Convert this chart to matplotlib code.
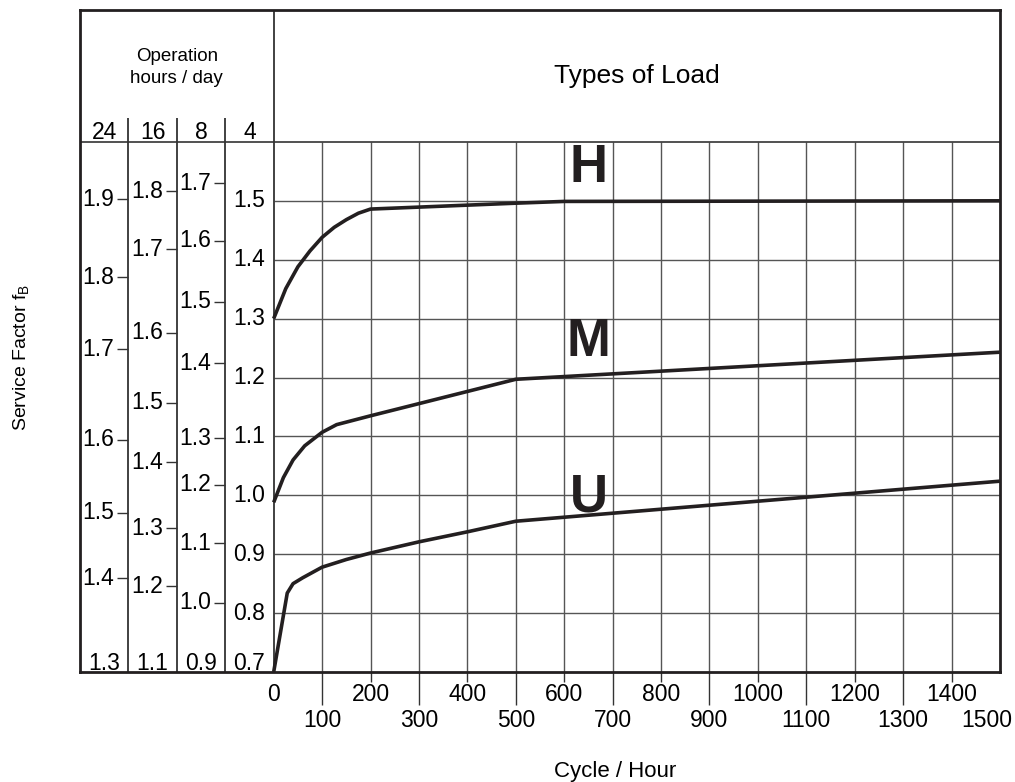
import numpy as np
import matplotlib
matplotlib.use("Agg")
import matplotlib.pyplot as plt
from matplotlib.transforms import ScaledTranslation

plt.rcParams['font.family'] = ['Liberation Sans', 'DejaVu Sans']
plt.rcParams['mathtext.fontset'] = 'custom'
plt.rcParams['mathtext.rm'] = 'Liberation Sans'

# curves, read on the 4 h/day scale (x = cycles / hour)
h_x = [0, 25, 50, 75, 100, 125, 150, 175, 200, 500, 600, 1500]
h_y = [1.30, 1.351, 1.388, 1.415, 1.438, 1.455, 1.468, 1.479, 1.486, 1.496, 1.499, 1.500]

m_x = [0, 20, 40, 64, 100, 130, 200, 500, 1500]
m_y = [0.988, 1.03, 1.06, 1.084, 1.107, 1.12, 1.135, 1.197, 1.243]

u_x = [0, 28, 40, 60, 100, 150, 200, 300, 400, 500, 1500]
u_y = [0.70, 0.834, 0.85, 0.86, 0.878, 0.891, 0.902, 0.921, 0.938, 0.956, 1.024]

# service factor scales for the other operation times,
# each label stored with its position on the 4 h scale
hours = ['24', '16', '8', '4']
sf24 = ['1.9', '1.8', '1.7', '1.6', '1.5', '1.4']
sf24_pos = [1.503, 1.370, 1.248, 1.094, 0.970, 0.859]
sf16 = ['1.8', '1.7', '1.6', '1.5', '1.4', '1.3', '1.2']
sf16_pos = [1.516, 1.418, 1.276, 1.157, 1.056, 0.944, 0.846]
sf8 = ['1.7', '1.6', '1.5', '1.4', '1.3', '1.2', '1.1', '1.0']
sf8_pos = [1.530, 1.432, 1.329, 1.224, 1.097, 1.018, 0.919, 0.818]
sf4 = ['1.5', '1.4', '1.3', '1.2', '1.1', '1.0', '0.9', '0.8']
sf4_pos = [1.5, 1.4, 1.3, 1.2, 1.1, 1.0, 0.9, 0.8]
bottom_labels = ['1.3', '1.1', '0.9', '0.7']

major_x = [0, 200, 400, 600, 800, 1000, 1200, 1400]
minor_x = [100, 300, 500, 700, 900, 1100, 1300, 1500]

fig = plt.figure(figsize=(10.15, 7.82), dpi=100)
ax = fig.add_axes([80 / 1015, 110 / 782, 920 / 1015, 662 / 782])
ax.set_xlim(-400, 1500)
ax.set_ylim(0.7, 1.824)

grid_c = '#555555'
line_c = '#231f20'

# grid inside chart area
ax.vlines(np.arange(100, 1500, 100), 0.7, 1.6, color=grid_c, lw=1.0)
ax.hlines(sf4_pos, 0, 1500, color=grid_c, lw=1.0)
# header line and dividers
ax.hlines(1.6, -400, 1500, color='#333333', lw=1.2)
ax.vlines(0, 0.7, 1.824, color='#333333', lw=1.3)
ax.vlines([-300, -200, -100], 0.7, 1.641, color='#333333', lw=1.3)

# curves
for xs, ys in [(h_x, h_y), (m_x, m_y), (u_x, u_y)]:
    ax.plot(xs, ys, color=line_c, lw=2.6, solid_capstyle='butt', clip_on=False)

# left scales
fs = 16.5
for labels, pos, right in [(sf24, sf24_pos, -300), (sf16, sf16_pos, -200), (sf8, sf8_pos, -100)]:
    ax.hlines(pos, right - 23, right, color='#333333', lw=1.0)
    for lab, p in zip(labels, pos):
        ax.text(right - 29, p, lab, ha='right', va='center', fontsize=fs)
for lab, p in zip(sf4, sf4_pos):
    ax.text(-50, p, lab, ha='center', va='center', fontsize=fs)

for i, (hh, bl) in enumerate(zip(hours, bottom_labels)):
    cx = -350 + 100 * i
    ax.text(cx, 1.605, hh, ha='center', va='baseline', fontsize=fs)
    ax.text(cx, 0.704, bl, ha='center', va='baseline', fontsize=fs)

# header texts
ax.text(-200, 1.7375, 'Operation', ha='center', va='baseline', fontsize=13.5)
ax.text(-200, 1.700, 'hours / day', ha='center', va='baseline', fontsize=13.5)
ax.text(750, 1.700, 'Types of Load', ha='center', va='baseline', fontsize=19)

# load type letters
for letter, y in [('H', 1.556), ('M', 1.260), ('U', 0.997)]:
    ax.text(650, y, letter, ha='center', va='center', fontsize=38, fontweight='bold', color=line_c)

# x axis ticks
ax.set_xticks(major_x, [str(v) for v in major_x])
ax.set_xticks(minor_x, [str(v) for v in minor_x], minor=True)
ax.tick_params(axis='x', which='major', length=7.2, width=1.0, color='#333333', pad=1, labelsize=fs)
ax.tick_params(axis='x', which='minor', length=23.8, width=1.0, color='#333333', pad=3, labelsize=fs)
ax.xaxis.get_major_ticks()[0].tick1line.set_visible(False)
last = ax.xaxis.get_minor_ticks()[-1]
last.tick1line.set_visible(False)
last.label1.set_ha('right')
last.label1.set_transform(last.label1.get_transform() + ScaledTranslation(0.12, 0, fig.dpi_scale_trans))
ax.set_yticks([])

for s in ax.spines.values():
    s.set_linewidth(2.0)
    s.set_color(line_c)

fig.text(22 / 1015, 1 - 357 / 782, r'Service Factor f$_\mathrm{B}$', rotation=90,
         ha='center', va='center', fontsize=14)
fig.text(615 / 1015, 1 - 772 / 782, 'Cycle / Hour', ha='center', va='center', fontsize=16)

fig.savefig('out.png', dpi=100)
